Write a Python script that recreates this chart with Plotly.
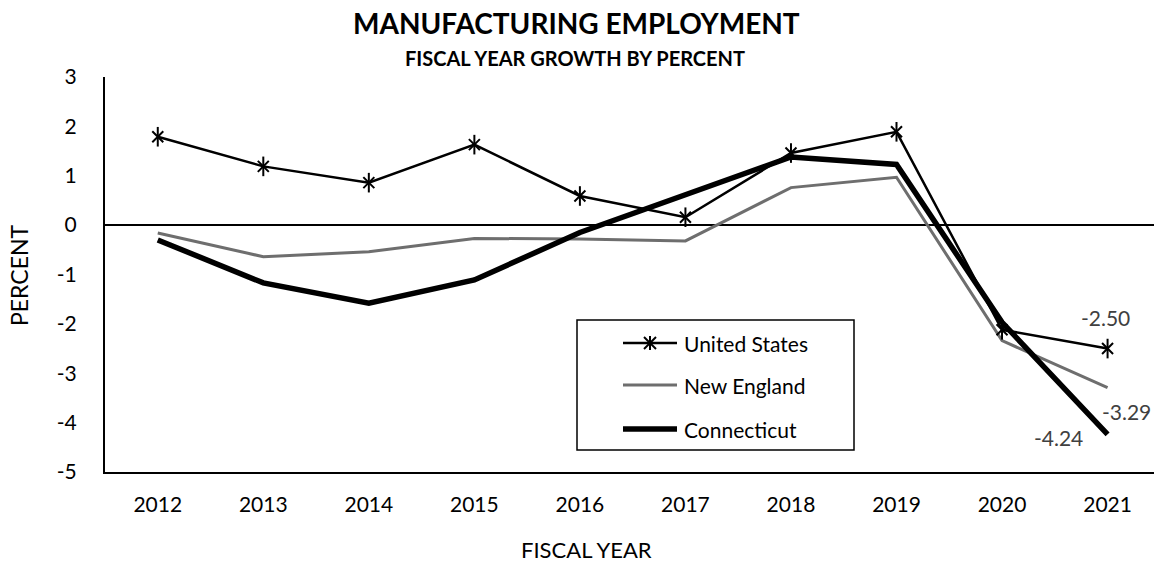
import plotly.graph_objects as go

# Fiscal-year manufacturing employment growth (%)
years = [2012, 2013, 2014, 2015, 2016, 2017, 2018, 2019, 2020, 2021]
us = [1.79, 1.19, 0.86, 1.63, 0.59, 0.16, 1.46, 1.89, -2.12, -2.50]
new_england = [-0.16, -0.64, -0.54, -0.27, -0.28, -0.32, 0.76, 0.97, -2.34, -3.29]
connecticut = [-0.30, -1.17, -1.58, -1.11, -0.15, 0.62, 1.38, 1.23, -1.97, -4.24]
y_ticks = [3, 2, 1, 0, -1, -2, -3, -4, -5]

W, H = 1154, 563
L, R, T, B = 105, 0, 77, 91
PW, PH = W - L - R, H - T - B
FONT = "Lato, Carlito, 'Open Sans', sans-serif"


def px_x(px):
    return (px - L) / PW


def px_y(py):
    return (H - B - py) / PH


fig = go.Figure()

fig.add_trace(go.Scatter(
    x=years, y=new_england, mode="lines", name="New England",
    line=dict(color="#6e6e6e", width=3), showlegend=False))
fig.add_trace(go.Scatter(
    x=years, y=connecticut, mode="lines", name="Connecticut",
    line=dict(color="black", width=5.5), showlegend=False))
fig.add_trace(go.Scatter(
    x=years, y=us, mode="lines+markers", name="United States",
    line=dict(color="black", width=2.5),
    marker=dict(symbol="x-thin-open", size=11, color="black",
                line=dict(color="black", width=2)),
    showlegend=False))
# vertical stroke completes the six-armed asterisk markers
fig.add_trace(go.Scatter(
    x=years, y=us, mode="markers", hoverinfo="skip",
    marker=dict(symbol="line-ns-open", size=14, color="black",
                line=dict(color="black", width=2)),
    showlegend=False))

# end-of-series value labels
label_style = dict(showarrow=False, font=dict(family=FONT, size=21, color="#404040"),
                   xref="x", yref="y", xanchor="center", yanchor="middle")
fig.add_annotation(x=years[-1], y=us[-1], text=f"{us[-1]:.2f}", xshift=-2, yshift=31, **label_style)
fig.add_annotation(x=years[-1], y=new_england[-1], text=f"{new_england[-1]:.2f}",
                   xshift=19, yshift=-24, **label_style)
fig.add_annotation(x=years[-1], y=connecticut[-1], text=f"{connecticut[-1]:.2f}",
                   xshift=-49, yshift=-3, **label_style)

# titles
text_style = dict(xref="paper", yref="paper", showarrow=False,
                  xanchor="center", yanchor="middle")
fig.add_annotation(x=px_x(576), y=px_y(23), text="<b>MANUFACTURING EMPLOYMENT</b>",
                   font=dict(family=FONT, size=28, color="black"), **text_style)
fig.add_annotation(x=px_x(575), y=px_y(58), text="<b>FISCAL YEAR GROWTH BY PERCENT</b>",
                   font=dict(family=FONT, size=20, color="black"), **text_style)
fig.add_annotation(x=px_x(586), y=px_y(549), text="FISCAL YEAR",
                   font=dict(family=FONT, size=22, color="black"), **text_style)
fig.add_annotation(x=px_x(19), y=px_y(275), text="PERCENT", textangle=-90,
                   font=dict(family=FONT, size=23, color="black"), **text_style)

# legend box
shapes = [dict(type="rect", xref="paper", yref="paper",
               x0=px_x(577), x1=px_x(854), y0=px_y(450), y1=px_y(320),
               line=dict(color="black", width=1.5), fillcolor="white", layer="above")]
legend_items = [
    ("United States", 343, "black", 2.5),
    ("New England", 385, "#6e6e6e", 3),
    ("Connecticut", 429, "black", 5.5),
]
for name, py, color, width in legend_items:
    shapes.append(dict(type="line", xref="paper", yref="paper",
                       x0=px_x(623), x1=px_x(677), y0=px_y(py), y1=px_y(py),
                       line=dict(color=color, width=width), layer="above"))
    fig.add_annotation(x=px_x(682), y=px_y(py), xref="paper", yref="paper", showarrow=False,
                       xanchor="left", yanchor="middle", text=name,
                       font=dict(family=FONT, size=21, color="black"))
# asterisk glyph on the United States legend sample
cx, cy, r = 650, 343, 6
for dx0, dy0, dx1, dy1 in [(-r, -r, r, r), (-r, r, r, -r), (0, -r - 1, 0, r + 1)]:
    shapes.append(dict(type="line", xref="paper", yref="paper",
                       x0=px_x(cx + dx0), y0=px_y(cy + dy0), x1=px_x(cx + dx1), y1=px_y(cy + dy1),
                       line=dict(color="black", width=2), layer="above"))

fig.update_layout(
    width=W, height=H,
    margin=dict(l=L, r=R, t=T, b=B),
    paper_bgcolor="white", plot_bgcolor="white",
    font=dict(family=FONT, size=21, color="black"),
    shapes=shapes,
    showlegend=False,
)
fig.update_xaxes(
    range=[2011.5, 2021.44], tickvals=years, ticktext=[str(y) for y in years],
    showgrid=False, zeroline=False, showline=True, linecolor="black", linewidth=2,
    ticks="", ticklabelstandoff=13, tickfont=dict(family=FONT, size=21, color="black"),
)
fig.update_yaxes(
    range=[-5, 3], tickvals=y_ticks, ticktext=[str(v) for v in y_ticks],
    showgrid=False, zeroline=True, zerolinecolor="black", zerolinewidth=1.5,
    showline=True, linecolor="black", linewidth=2,
    ticks="", ticklabelstandoff=22, tickfont=dict(family=FONT, size=21, color="black"),
)

fig.write_html("out.html")
